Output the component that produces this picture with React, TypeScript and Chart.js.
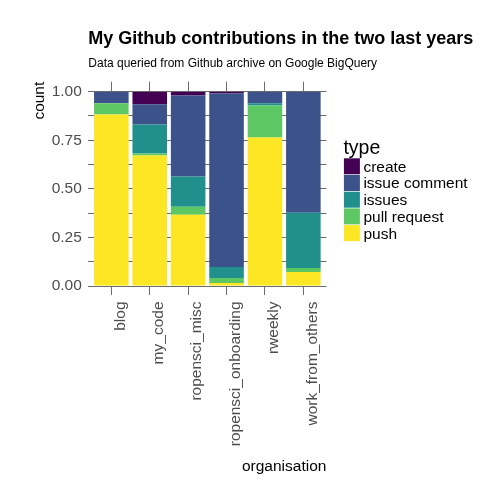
import React, { useEffect, useRef } from 'react';
import { Chart, registerables } from 'chart.js';

Chart.register(...registerables);

const FONT = '"Liberation Sans", Arial, sans-serif';

const organisations = ['blog', 'my_code', 'ropensci_misc', 'ropensci_onboarding', 'rweekly', 'work_from_others'];

// share of each contribution type per organisation (bottom to top)
const pushShare = [0.883, 0.671, 0.367, 0.016, 0.764, 0.072];
const pullRequestShare = [0.057, 0.011, 0.041, 0.025, 0.165, 0.021];
const issuesShare = [0, 0.149, 0.155, 0.057, 0.011, 0.284];
const issueCommentShare = [0.06, 0.104, 0.418, 0.893, 0.06, 0.623];
const createShare = [0, 0.065, 0.019, 0.009, 0, 0];

const types = ['push', 'pull request', 'issues', 'issue comment', 'create'];
const typeColours = ['#FDE725', '#5DC863', '#21908C', '#3B528B', '#440154'];
const series = [pushShare, pullRequestShare, issuesShare, issueCommentShare, createShare];

const yTicks = [0, 0.25, 0.5, 0.75, 1];

const chartTitle = 'My Github contributions in the two last years';
const chartSubtitle = 'Data queried from Github archive on Google BigQuery';

const GRID = '#6b6b6b';

const textPlugin = {
  id: 'ggTexts',
  afterDraw(chart: any) {
    const { ctx, chartArea } = chart;
    ctx.save();
    ctx.fillStyle = '#000';
    ctx.textAlign = 'left';
    ctx.textBaseline = 'alphabetic';
    ctx.font = `bold 18px ${FONT}`;
    ctx.fillText(chartTitle, chartArea.left, 43.5);
    ctx.font = `12px ${FONT}`;
    ctx.fillText(chartSubtitle, chartArea.left, 66.7);

    // y axis title, right-justified at the top
    ctx.save();
    ctx.translate(44, chartArea.top - 10);
    ctx.rotate(-Math.PI / 2);
    ctx.textAlign = 'right';
    ctx.font = `15.5px ${FONT}`;
    ctx.fillText('count', 0, 0);
    ctx.restore();

    // legend
    const lx = chartArea.right + 17.5;
    ctx.font = `19.5px ${FONT}`;
    ctx.fillText('type', lx - 0.5, 153.5);
    ctx.font = `15.5px ${FONT}`;
    const ds = chart.data.datasets.slice().reverse();
    ds.forEach((d: any, i: number) => {
      const y = 158.3 + i * 16.7;
      ctx.fillStyle = d.backgroundColor;
      ctx.fillRect(lx, y, 16, 16);
      ctx.fillStyle = '#000';
      ctx.fillText(d.label, lx + 19.5, y + 13.4);
    });
    ctx.restore();
  },
};

const categoryTicks = (scale: any) => {
  scale.ticks = organisations.map((_, i) => ({ value: i + 1 }));
};

export default function App() {
  const canvasRef = useRef<HTMLCanvasElement>(null);
  const chartRef = useRef<Chart | null>(null);

  useEffect(() => {
    if (!canvasRef.current) return;
    if (chartRef.current) chartRef.current.destroy();

    chartRef.current = new Chart(canvasRef.current, {
      type: 'bar',
      data: {
        datasets: series.map((values, k) => ({
          label: types[k],
          data: values.map((v, i) => ({ x: i + 1, y: v })),
          backgroundColor: typeColours[k],
          borderWidth: 0,
          categoryPercentage: 0.9,
          barPercentage: 1,
        })),
      },
      options: {
        animation: false,
        responsive: true,
        maintainAspectRatio: false,
        layout: { padding: { top: 81.7, right: 177.6, bottom: 0, left: 0 } },
        plugins: {
          legend: { display: false },
          tooltip: { enabled: false },
        },
        scales: {
          x: {
            type: 'linear',
            position: 'bottom',
            min: 0.4,
            max: 6.6,
            offset: false,
            stacked: true,
            afterBuildTicks: categoryTicks,
            afterFit: (s: any) => {
              s.height = 218;
            },
            grid: { offset: false, drawOnChartArea: false, drawTicks: true, tickLength: 9, color: GRID },
            border: { display: false },
            ticks: {
              autoSkip: false,
              minRotation: 90,
              maxRotation: 90,
              padding: 6.5,
              labelOffset: 9,
              color: '#4d4d4d',
              font: { family: FONT, size: 15.5 },
              callback: (v: any) => organisations[Math.round(v) - 1],
            },
            title: {
              display: true,
              text: 'organisation',
              align: 'end',
              color: '#000',
              font: { family: FONT, size: 15.5 },
              padding: { top: 0, bottom: 28 },
            },
          },
          xTop: {
            type: 'linear',
            position: 'top',
            min: 0.4,
            max: 6.6,
            offset: false,
            afterBuildTicks: categoryTicks,
            afterFit: (s: any) => {
              s.height = 10;
            },
            grid: { offset: false, drawOnChartArea: false, drawTicks: true, tickLength: 10, color: GRID },
            border: { display: false },
            ticks: { display: false },
          },
          y: {
            min: 0,
            max: 1,
            stacked: true,
            afterFit: (s: any) => {
              s.width = 88.3;
            },
            grid: { color: GRID, drawTicks: false },
            border: { display: false },
            ticks: {
              stepSize: 0.125,
              autoSkip: false,
              padding: 6.5,
              color: '#4d4d4d',
              font: { family: FONT, size: 15.5 },
              callback: (v: any) => (yTicks.some((t) => Math.abs(t - v) < 1e-6) ? Number(v).toFixed(2) : ''),
            },
          },
        },
      } as any,
      plugins: [textPlugin],
    });

    return () => {
      if (chartRef.current) {
        chartRef.current.destroy();
        chartRef.current = null;
      }
    };
  }, []);

  return (
    <div style={{ position: 'absolute', left: 0, top: 0, width: 504, height: 504, background: '#fff' }}>
      <canvas ref={canvasRef}></canvas>
    </div>
  );
}
